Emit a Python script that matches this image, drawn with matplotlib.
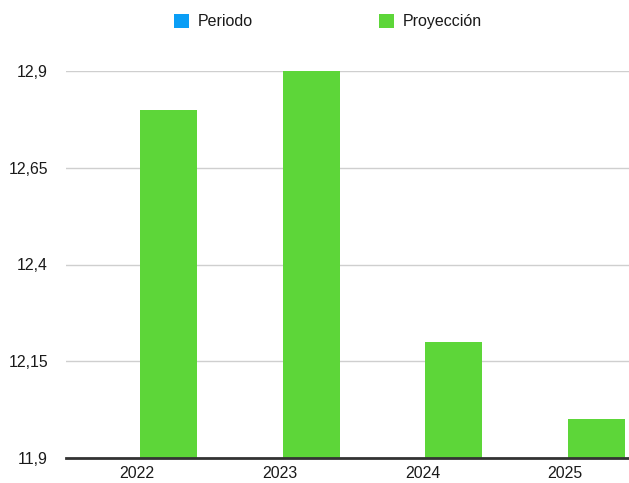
import numpy as np
import matplotlib
matplotlib.use("Agg")
import matplotlib.pyplot as plt
from matplotlib.patches import Patch
from matplotlib.ticker import FixedLocator, FuncFormatter

categories = ["2022", "2023", "2024", "2025"]
periodo = [np.nan, np.nan, np.nan, np.nan]
proyeccion = [12.80, 12.90, 12.20, 12.00]
yticks = [11.9, 12.15, 12.4, 12.65, 12.9]

c_periodo = "#0a9ef6"
c_proy = "#5dd639"

plt.rcParams["font.family"] = ["Liberation Sans", "DejaVu Sans"]

fig = plt.figure(figsize=(6.29, 4.83), dpi=100)
W, H = 629, 483
ax = fig.add_axes([66 / W, 1 - 458 / H, (629 - 66) / W, (458 - 71) / H])

base = yticks[0]
x = np.arange(len(categories))
bw = 0.4
ax.bar(x - 0.02 - bw / 2, np.array(periodo) - base, bottom=base, width=bw, color=c_periodo)
ax.bar(x + 0.02 + bw / 2, np.array(proyeccion) - base, bottom=base, width=bw,
       color=c_proy, clip_on=False, zorder=3)

ax.set_ylim(11.9, 12.9)
ax.set_xlim(-0.4975, 3.448)
ax.yaxis.set_major_locator(FixedLocator(yticks))
ax.yaxis.set_major_formatter(FuncFormatter(lambda v, p: ("%g" % v).replace(".", ",")))
ax.set_xticks(x)
ax.set_xticklabels(categories)

ax.grid(axis="y", color="#cfcfcf", linewidth=1.0, zorder=0)
ax.set_axisbelow(True)
for s in ["top", "right", "left"]:
    ax.spines[s].set_visible(False)
ax.spines["bottom"].set_color("#333333")
ax.spines["bottom"].set_linewidth(2.0)
ax.spines["bottom"].set_zorder(5)
ax.tick_params(axis="both", length=0, labelsize=11.4, colors="#1a1a1a")
ax.tick_params(axis="y", pad=13)
ax.tick_params(axis="x", pad=6)

handles = [Patch(facecolor=c_periodo, edgecolor="none", label="Periodo"),
           Patch(facecolor=c_proy, edgecolor="none", label="Proyección")]
fig.legend(handles=handles, loc="center", bbox_to_anchor=(328 / W, 1 - 21.5 / H), ncol=2,
           frameon=False, fontsize=11.5, handlelength=0.95, handleheight=0.95,
           handletextpad=0.55, columnspacing=7.9, labelcolor="#1a1a1a")

fig.savefig("out.png", dpi=100)
